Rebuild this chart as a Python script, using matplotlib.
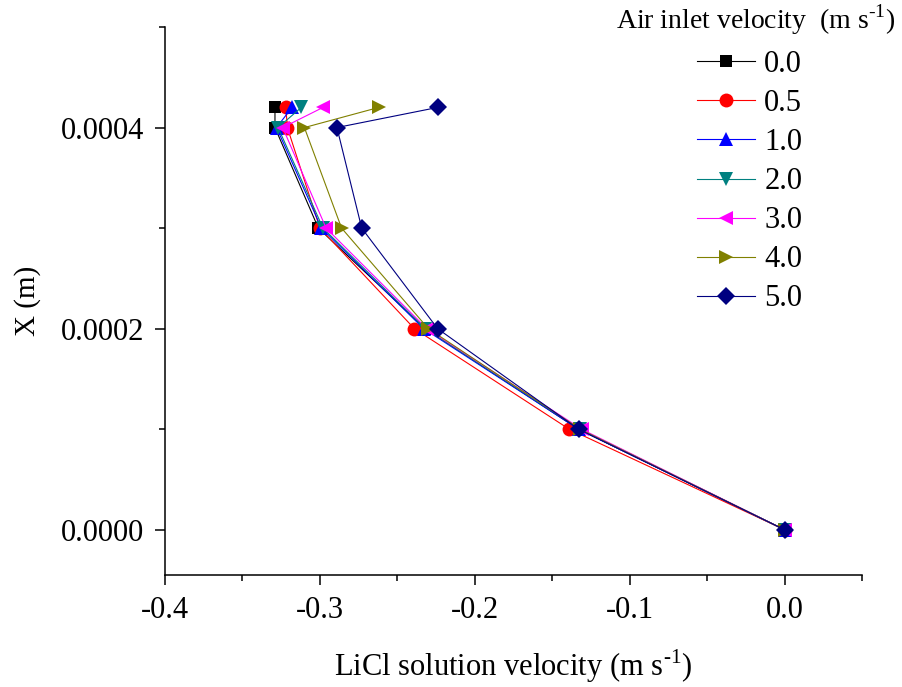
import matplotlib
matplotlib.use('Agg')
import matplotlib.pyplot as plt
from matplotlib.ticker import MultipleLocator

plt.rcParams['font.family'] = ['Liberation Serif', 'DejaVu Serif']
plt.rcParams['mathtext.fontset'] = 'custom'
plt.rcParams['mathtext.rm'] = 'Liberation Serif'

# Data
x_pos = [0.0, 0.0001, 0.0002, 0.0003, 0.0004, 0.00042]
labels = ['0.0', '0.5', '1.0', '2.0', '3.0', '4.0', '5.0']
v_00 = [0.0, -0.133, -0.232, -0.301, -0.329, -0.329]
v_05 = [0.0, -0.139, -0.239, -0.300, -0.321, -0.322]
v_10 = [0.0, -0.133, -0.233, -0.299, -0.328, -0.318]
v_20 = [0.0, -0.132, -0.232, -0.298, -0.327, -0.312]
v_30 = [0.0, -0.131, -0.231, -0.296, -0.324, -0.298]
v_40 = [0.0, -0.132, -0.230, -0.286, -0.310, -0.262]
v_50 = [0.0, -0.133, -0.224, -0.273, -0.289, -0.224]

series = [v_00, v_05, v_10, v_20, v_30, v_40, v_50]
colors = ['black', '#FF0000', '#0000FF', '#008080', '#FF00FF', '#808000', '#000080']
markers = ['s', 'o', '^', 'v', '<', '>', 'D']
sizes = [9, 10, 10, 10, 10, 10, 9]

fig = plt.figure(figsize=(9.02, 6.87), dpi=100)
ax = fig.add_axes([165 / 902, 112 / 687, 697 / 902, 548 / 687])

for vals, lab, c, m, s in zip(series, labels, colors, markers, sizes):
    ax.plot(vals, x_pos, color=c, marker=m, markersize=s, linewidth=0.8,
            markeredgewidth=0, label=lab)

ax.set_xlim(-0.4, 0.05)
ax.set_ylim(-0.000045, 0.0005)
ax.xaxis.set_minor_locator(MultipleLocator(0.05))
ax.yaxis.set_minor_locator(MultipleLocator(0.0001))
ax.set_xticks([-0.4, -0.3, -0.2, -0.1, 0.0])
ax.set_xticklabels(['-0.4', '-0.3', '-0.2', '-0.1', '0.0'])
ax.set_yticks([0.0, 0.0002, 0.0004])
ax.set_yticklabels(['0.0000', '0.0002', '0.0004'])

for side in ['top', 'right']:
    ax.spines[side].set_visible(False)
for side in ['left', 'bottom']:
    ax.spines[side].set_linewidth(1.1)
ax.tick_params(which='major', direction='out', length=7, width=1.1, labelsize=22, pad=8)
ax.tick_params(which='minor', direction='out', length=4, width=1.1)

unit = r'(m s$^{\text{-1}}$)'
ax.set_xlabel('LiCl solution velocity ' + unit, fontsize=22, labelpad=16)
ax.set_ylabel('X (m)', fontsize=21, labelpad=14)

fig.text(0.993, 0.972, 'Air inlet velocity  ' + unit, fontsize=20,
         ha='right', va='center')
ax.legend(loc='upper left', bbox_to_anchor=(697 / 902, 1 - 50 / 687),
          bbox_transform=fig.transFigure, frameon=False, fontsize=22,
          handlelength=1.9, handletextpad=0.3, labelspacing=0.33,
          borderpad=0, borderaxespad=0)

fig.savefig('out.png', dpi=100)
